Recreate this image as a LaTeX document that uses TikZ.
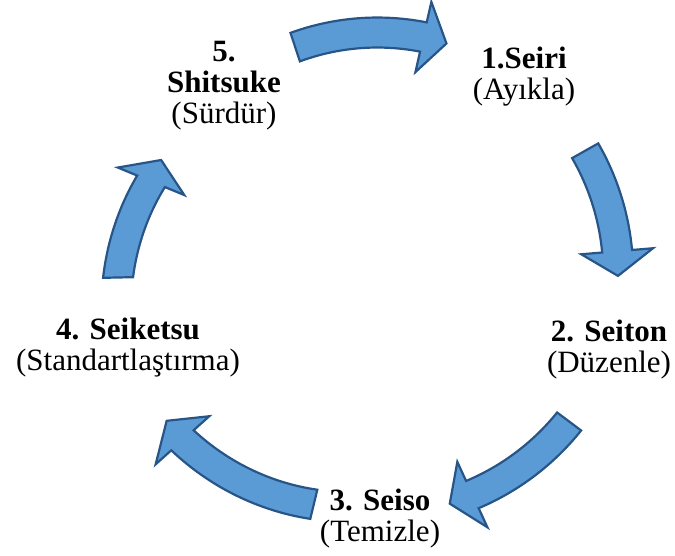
\documentclass[tikz,border=0pt]{standalone}
\usepackage{fontspec}
\setmainfont{Liberation Serif}
\definecolor{arrowfill}{RGB}{91,155,213}
\definecolor{arrowline}{RGB}{40,85,135}
\tikzset{
  cyclearrow/.style={fill=arrowfill,draw=arrowline,line width=2.2pt,line join=miter},
  steplabel/.style={align=center,inner sep=0pt,font=\fontsize{31}{31}\selectfont},
}
% #1 tail angle, #2 tip angle, #3 tail radius, #4 head radius
\newcommand\cycarrow[4]{%
  \pgfmathsetmacro\hb{#2+5.7}%
  \draw[cyclearrow]
    plot[domain=#1:\hb,samples=30] (\x:{#3+(#4-#3)*(\x-(#1))/(\hb-(#1))+15})
    -- (\hb:#4+36) -- (#2:#4) -- (\hb:#4-36)
    -- plot[domain=\hb:#1,samples=30] (\x:{#3+(#4-#3)*(\x-(#1))/(\hb-(#1))-15})
    -- cycle;}
\begin{document}
\begin{tikzpicture}[x=1pt,y=1pt]
\useasboundingbox (0,0) rectangle (675,555);
\begin{scope}[shift={(370,283)}]
  \cycarrow{108.4}{71.5}{237}{241}
  \cycarrow{29.4}{-0.9}{247}{248}
  \cycarrow{-36.9}{-71}{249}{245}
  \cycarrow{-103.6}{-143.8}{239}{252}
  \cycarrow{181.25}{151.8}{252}{237}
\end{scope}
\node[steplabel] (n5) at (224,469.15) {\textbf{5.}\\\textbf{Shitsuke}\\(Sürdür)};
\node[steplabel] (n1) at (524,478.15) {\textbf{1.Seiri}\\(Ayıkla)};
\node[steplabel] (n2) at (609,205.65) {\textbf{2. Seiton}\\(Düzenle)};
\node[steplabel] (n3) at (380,36.15) {\textbf{3. Seiso}\\(Temizle)};
\node[steplabel] (n4) at (128,207.15) {\textbf{4. Seiketsu}\\(Standartlaştırma)};
\end{tikzpicture}
\end{document}
